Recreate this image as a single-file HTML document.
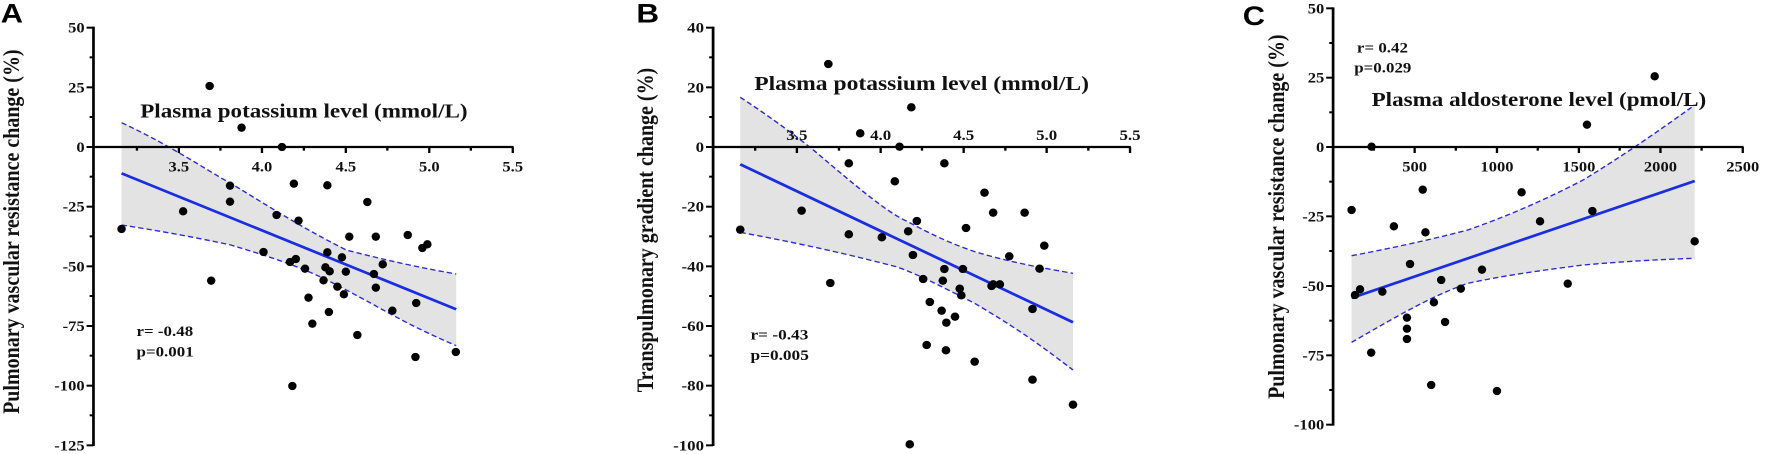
<!DOCTYPE html>
<html><head><style>html,body{margin:0;padding:0;background:#fff;}svg{display:block}</style></head>
<body>
<svg width="1772" height="454" viewBox="0 0 5316 1362" xmlns="http://www.w3.org/2000/svg">
<style>
.ax{stroke:#000;stroke-width:7;fill:none}
.tk{font-family:"Liberation Serif",serif;font-weight:bold;font-size:43px;fill:#111}
.tt{font-family:"Liberation Serif",serif;font-weight:bold;font-size:60px;fill:#111}
.st{font-family:"Liberation Serif",serif;font-weight:bold;font-size:44px;fill:#111}
.pl{font-family:"Liberation Sans",sans-serif;font-weight:bold;font-size:80px;fill:#000}
.ci{fill:#e3e3e3;stroke:none}
.dl{stroke:#2a2ad0;stroke-width:4;stroke-dasharray:14 8;fill:none}
.rl{stroke:#1a2ee0;stroke-width:8;fill:none}
ellipse{fill:#000}
</style>
<defs><ellipse id="d" cx="0" cy="0" rx="11" ry="12.5"/></defs>

<!-- Panel A -->
<g transform="translate(0,0) scale(1.154,1)">
<path class="ci" d="M316,368 C450,440 550,520 600,550 C700,620 780,680 900,750 C1000,780 1100,805 1186,822 L1186,1037 C1050,970 1000,930 900,870 C820,820 760,790 600,735 C500,710 400,690 316,675 Z"/>
<path class="dl" d="M316,368 C450,440 550,520 600,550 C700,620 780,680 900,750 C1000,780 1100,805 1186,822"/>
<path class="dl" d="M316,675 C400,690 500,710 600,735 C760,790 820,820 900,870 C1000,930 1050,970 1186,1037"/>
<line class="rl" x1="316" y1="520" x2="1186" y2="928"/>
<g class="ax">
<line x1="243" y1="80" x2="243" y2="1338"/>
<line x1="243" y1="441" x2="1335" y2="441"/>
</g>
<g stroke="#000" stroke-width="6">
<line x1="225" y1="83" x2="243" y2="83"/><line x1="233" y1="172" x2="243" y2="172"/>
<line x1="225" y1="262" x2="243" y2="262"/><line x1="233" y1="351" x2="243" y2="351"/>
<line x1="225" y1="441" x2="243" y2="441"/><line x1="233" y1="530" x2="243" y2="530"/>
<line x1="225" y1="620" x2="243" y2="620"/><line x1="233" y1="709" x2="243" y2="709"/>
<line x1="225" y1="799" x2="243" y2="799"/><line x1="233" y1="888" x2="243" y2="888"/>
<line x1="225" y1="978" x2="243" y2="978"/><line x1="233" y1="1067" x2="243" y2="1067"/>
<line x1="225" y1="1157" x2="243" y2="1157"/><line x1="233" y1="1246" x2="243" y2="1246"/>
<line x1="225" y1="1336" x2="243" y2="1336"/>
<line x1="356" y1="441" x2="356" y2="452"/><line x1="465" y1="441" x2="465" y2="459"/>
<line x1="573" y1="441" x2="573" y2="452"/><line x1="681" y1="441" x2="681" y2="459"/>
<line x1="790" y1="441" x2="790" y2="452"/><line x1="899" y1="441" x2="899" y2="459"/>
<line x1="1007" y1="441" x2="1007" y2="452"/><line x1="1116" y1="441" x2="1116" y2="459"/>
<line x1="1224" y1="441" x2="1224" y2="452"/><line x1="1333" y1="441" x2="1333" y2="459"/>
</g>
<g class="tk" text-anchor="end">
<text x="220" y="98">50</text><text x="220" y="277">25</text><text x="220" y="456">0</text>
<text x="220" y="635">-25</text><text x="220" y="814">-50</text><text x="220" y="993">-75</text>
<text x="220" y="1172">-100</text><text x="220" y="1351">-125</text>
</g>
<g class="tk" text-anchor="middle">
<text x="465" y="515">3.5</text><text x="681" y="515">4.0</text><text x="899" y="515">4.5</text><text x="1116" y="515">5.0</text><text x="1333" y="515">5.5</text>
</g>
<text class="tt" x="790" y="352" text-anchor="middle">Plasma potassium level (mmol/L)</text>
<text class="tt" transform="translate(50,695) rotate(-90)" text-anchor="middle">Pulmonary vascular resistance change (%)</text>
<text class="pl" x="2" y="68">A</text>
<text class="st" x="355" y="1008">r= -0.48</text>
<text class="st" x="355" y="1070">p=0.001</text>
<g>
<use href="#d" x="545" y="258"/><use href="#d" x="628" y="383"/><use href="#d" x="733" y="441"/><use href="#d" x="316" y="687"/><use href="#d" x="476" y="634"/><use href="#d" x="549" y="842"/><use href="#d" x="598" y="557"/><use href="#d" x="598" y="605"/><use href="#d" x="719" y="645"/><use href="#d" x="685" y="756"/><use href="#d" x="764" y="551"/><use href="#d" x="776" y="662"/><use href="#d" x="754" y="786"/><use href="#d" x="769" y="777"/><use href="#d" x="793" y="806"/><use href="#d" x="802" y="893"/><use href="#d" x="812" y="971"/><use href="#d" x="760" y="1158"/><use href="#d" x="851" y="556"/><use href="#d" x="851" y="757"/><use href="#d" x="846" y="802"/><use href="#d" x="857" y="814"/><use href="#d" x="841" y="841"/><use href="#d" x="877" y="860"/><use href="#d" x="855" y="936"/><use href="#d" x="889" y="772"/><use href="#d" x="899" y="815"/><use href="#d" x="894" y="883"/><use href="#d" x="908" y="710"/><use href="#d" x="929" y="1005"/><use href="#d" x="955" y="606"/><use href="#d" x="977" y="710"/><use href="#d" x="972" y="822"/><use href="#d" x="977" y="863"/><use href="#d" x="995" y="793"/><use href="#d" x="1020" y="932"/><use href="#d" x="1060" y="705"/><use href="#d" x="1082" y="909"/><use href="#d" x="1080" y="1071"/><use href="#d" x="1098" y="744"/><use href="#d" x="1111" y="733"/><use href="#d" x="1185" y="1056"/>
</g>
</g>

<!-- Panel B -->
<g transform="translate(1626,0) scale(1.180,1)">
<path class="ci" d="M504,292 C580,350 660,420 700,460 C800,560 880,640 930,665 C1000,710 1050,735 1100,755 C1200,790 1280,805 1350,820 L1350,1110 C1250,1020 1200,980 1100,910 C1000,850 950,820 900,800 C800,770 700,740 504,697 Z"/>
<path class="dl" d="M504,292 C580,350 660,420 700,460 C800,560 880,640 930,665 C1000,710 1050,735 1100,755 C1200,790 1280,805 1350,820"/>
<path class="dl" d="M504,697 C700,740 800,770 900,800 C950,820 1000,850 1100,910 C1200,980 1250,1020 1350,1110"/>
<line class="rl" x1="504" y1="493" x2="1350" y2="967"/>
<g class="ax">
<line x1="435" y1="80" x2="435" y2="1338"/>
<line x1="435" y1="441" x2="1497" y2="441"/>
</g>
<g stroke="#000" stroke-width="6">
<line x1="417" y1="83" x2="435" y2="83"/><line x1="425" y1="172" x2="435" y2="172"/>
<line x1="417" y1="262" x2="435" y2="262"/><line x1="425" y1="351" x2="435" y2="351"/>
<line x1="417" y1="441" x2="435" y2="441"/><line x1="425" y1="530" x2="435" y2="530"/>
<line x1="417" y1="620" x2="435" y2="620"/><line x1="425" y1="709" x2="435" y2="709"/>
<line x1="417" y1="799" x2="435" y2="799"/><line x1="425" y1="888" x2="435" y2="888"/>
<line x1="417" y1="978" x2="435" y2="978"/><line x1="425" y1="1067" x2="435" y2="1067"/>
<line x1="417" y1="1157" x2="435" y2="1157"/><line x1="425" y1="1246" x2="435" y2="1246"/>
<line x1="417" y1="1336" x2="435" y2="1336"/>
<line x1="542" y1="441" x2="542" y2="452"/><line x1="648" y1="441" x2="648" y2="459"/>
<line x1="755" y1="441" x2="755" y2="452"/><line x1="861" y1="441" x2="861" y2="459"/>
<line x1="966" y1="441" x2="966" y2="452"/><line x1="1072" y1="441" x2="1072" y2="459"/>
<line x1="1178" y1="441" x2="1178" y2="452"/><line x1="1283" y1="441" x2="1283" y2="459"/>
<line x1="1389" y1="441" x2="1389" y2="452"/><line x1="1495" y1="441" x2="1495" y2="459"/>
</g>
<g class="tk" text-anchor="end">
<text x="412" y="98">40</text><text x="412" y="277">20</text><text x="412" y="456">0</text>
<text x="412" y="635">-20</text><text x="412" y="814">-40</text><text x="412" y="993">-60</text>
<text x="412" y="1172">-80</text><text x="412" y="1351">-100</text>
</g>
<g class="tk" text-anchor="middle">
<text x="648" y="420">3.5</text><text x="861" y="420">4.0</text><text x="1072" y="420">4.5</text><text x="1283" y="420">5.0</text><text x="1495" y="420">5.5</text>
</g>
<text class="tt" x="965" y="270" text-anchor="middle">Plasma potassium level (mmol/L)</text>
<text class="tt" transform="translate(282,690) rotate(-90)" text-anchor="middle">Transpulmonary gradient change (%)</text>
<text class="pl" x="240" y="68">B</text>
<text class="st" x="530" y="1018">r= -0.43</text>
<text class="st" x="530" y="1080">p=0.005</text>
<g>
<use href="#d" x="728" y="192"/><use href="#d" x="939" y="322"/><use href="#d" x="809" y="400"/><use href="#d" x="909" y="440"/><use href="#d" x="504" y="689"/><use href="#d" x="660" y="632"/><use href="#d" x="780" y="490"/><use href="#d" x="780" y="703"/><use href="#d" x="733" y="849"/><use href="#d" x="864" y="712"/><use href="#d" x="897" y="544"/><use href="#d" x="931" y="694"/><use href="#d" x="943" y="765"/><use href="#d" x="953" y="663"/><use href="#d" x="969" y="837"/><use href="#d" x="986" y="906"/><use href="#d" x="978" y="1035"/><use href="#d" x="935" y="1333"/><use href="#d" x="1023" y="490"/><use href="#d" x="1023" y="807"/><use href="#d" x="1019" y="842"/><use href="#d" x="1016" y="932"/><use href="#d" x="1028" y="968"/><use href="#d" x="1027" y="1051"/><use href="#d" x="1050" y="950"/><use href="#d" x="1062" y="866"/><use href="#d" x="1066" y="886"/><use href="#d" x="1070" y="807"/><use href="#d" x="1078" y="684"/><use href="#d" x="1100" y="1085"/><use href="#d" x="1125" y="578"/><use href="#d" x="1147" y="638"/><use href="#d" x="1143" y="858"/><use href="#d" x="1147" y="853"/><use href="#d" x="1164" y="853"/><use href="#d" x="1188" y="769"/><use href="#d" x="1227" y="638"/><use href="#d" x="1247" y="927"/><use href="#d" x="1247" y="1139"/><use href="#d" x="1265" y="806"/><use href="#d" x="1277" y="737"/><use href="#d" x="1350" y="1214"/>
</g>
</g>

<!-- Panel C -->
<g transform="translate(3480,0) scale(1.154,1)">
<path class="ci" d="M498,767 C600,745 700,720 800,690 C900,650 1000,600 1100,540 C1200,470 1300,390 1390,315 L1390,775 C1300,778 1200,785 1100,795 C1000,810 900,825 800,850 C700,890 600,960 498,1027 Z"/>
<path class="dl" d="M498,767 C600,745 700,720 800,690 C900,650 1000,600 1100,540 C1200,470 1300,390 1390,315"/>
<path class="dl" d="M498,1027 C600,960 700,890 800,850 C900,825 1000,810 1100,795 C1200,785 1300,778 1390,775"/>
<line class="rl" x1="498" y1="894" x2="1390" y2="543"/>
<g class="ax">
<line x1="450" y1="22" x2="450" y2="1277"/>
<line x1="450" y1="441" x2="1517" y2="441"/>
</g>
<g stroke="#000" stroke-width="6">
<line x1="432" y1="25" x2="450" y2="25"/><line x1="440" y1="129" x2="450" y2="129"/>
<line x1="432" y1="233" x2="450" y2="233"/><line x1="440" y1="337" x2="450" y2="337"/>
<line x1="432" y1="441" x2="450" y2="441"/><line x1="440" y1="545" x2="450" y2="545"/>
<line x1="432" y1="649" x2="450" y2="649"/><line x1="440" y1="753" x2="450" y2="753"/>
<line x1="432" y1="858" x2="450" y2="858"/><line x1="440" y1="962" x2="450" y2="962"/>
<line x1="432" y1="1066" x2="450" y2="1066"/><line x1="440" y1="1170" x2="450" y2="1170"/>
<line x1="432" y1="1274" x2="450" y2="1274"/>
<line x1="556" y1="441" x2="556" y2="452"/><line x1="662" y1="441" x2="662" y2="459"/>
<line x1="769" y1="441" x2="769" y2="452"/><line x1="876" y1="441" x2="876" y2="459"/>
<line x1="982" y1="441" x2="982" y2="452"/><line x1="1089" y1="441" x2="1089" y2="459"/>
<line x1="1195" y1="441" x2="1195" y2="452"/><line x1="1301" y1="441" x2="1301" y2="459"/>
<line x1="1408" y1="441" x2="1408" y2="452"/><line x1="1515" y1="441" x2="1515" y2="459"/>
</g>
<g class="tk" text-anchor="end">
<text x="427" y="40">50</text><text x="427" y="248">25</text><text x="427" y="456">0</text>
<text x="427" y="664">-25</text><text x="427" y="873">-50</text><text x="427" y="1081">-75</text>
<text x="427" y="1289">-100</text>
</g>
<g class="tk" text-anchor="middle">
<text x="662" y="515">500</text><text x="876" y="515">1000</text><text x="1089" y="515">1500</text><text x="1301" y="515">2000</text><text x="1515" y="515">2500</text>
</g>
<text class="tt" x="985" y="318" text-anchor="middle">Plasma aldosterone level (pmol/L)</text>
<text class="tt" transform="translate(322,650) rotate(-90)" text-anchor="middle">Pulmonary vascular resistance change (%)</text>
<text class="pl" x="215" y="75">C</text>
<text class="st" x="512" y="157">r= 0.42</text>
<text class="st" x="505" y="217">p=0.029</text>
<g>
<use href="#d" x="498" y="630"/><use href="#d" x="507" y="885"/><use href="#d" x="520" y="868"/><use href="#d" x="550" y="440"/><use href="#d" x="549" y="1058"/><use href="#d" x="578" y="875"/><use href="#d" x="608" y="679"/><use href="#d" x="642" y="953"/><use href="#d" x="642" y="986"/><use href="#d" x="642" y="1017"/><use href="#d" x="650" y="792"/><use href="#d" x="683" y="569"/><use href="#d" x="690" y="697"/><use href="#d" x="705" y="1155"/><use href="#d" x="712" y="907"/><use href="#d" x="731" y="840"/><use href="#d" x="741" y="966"/><use href="#d" x="782" y="866"/><use href="#d" x="837" y="809"/><use href="#d" x="876" y="1173"/><use href="#d" x="940" y="577"/><use href="#d" x="988" y="664"/><use href="#d" x="1060" y="851"/><use href="#d" x="1110" y="374"/><use href="#d" x="1124" y="633"/><use href="#d" x="1286" y="229"/><use href="#d" x="1390" y="724"/>
</g>
</g>
</svg>
</body></html>
